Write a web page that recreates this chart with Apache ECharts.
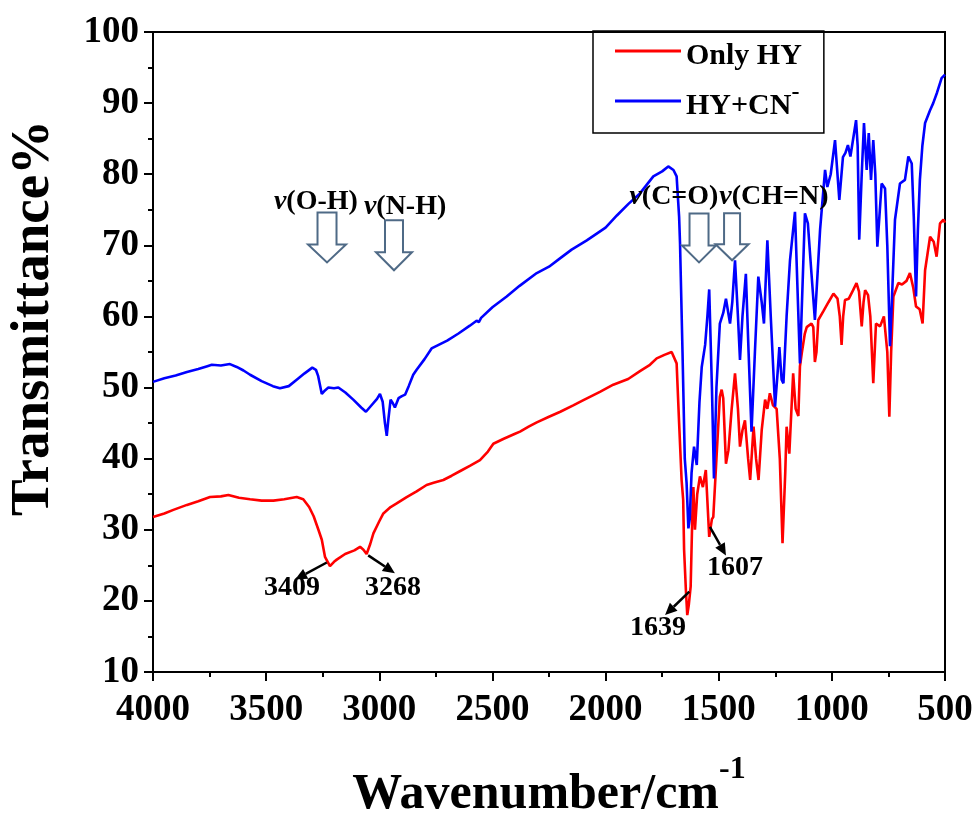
<!DOCTYPE html>
<html><head><meta charset="utf-8">
<script src="https://cdn.jsdelivr.net/npm/echarts@6/dist/echarts.min.js"></script>
<style>html,body{margin:0;padding:0;background:#fff}#c{width:976px;height:816px}</style>
</head><body><div id="c"></div>
<script>
// ---------- data ----------
const xTicks = [500, 1000, 1500, 2000, 2500, 3000, 3500, 4000];
const yTicks = [10, 20, 30, 40, 50, 60, 70, 80, 90, 100];
const seriesNames = ['Only HY', 'HY+CN-'];

// [wavenumber cm-1, transmittance %]
const onlyHY = [
 [4000,31.8],[3950,32.3],[3910,32.8],[3850,33.5],[3800,34.0],[3748,34.6],[3700,34.7],[3667,34.9],
 [3620,34.5],[3571,34.3],[3520,34.1],[3468,34.1],[3420,34.3],[3365,34.6],[3336,34.3],[3310,33.2],
 [3290,31.9],[3269,30.0],[3254,28.6],[3240,26.2],[3218,24.9],[3200,25.5],[3188,25.8],[3151,26.6],
 [3110,27.1],[3085,27.6],[3070,27.2],[3056,26.6],[3040,28.0],[3026,29.5],[3000,31.2],[2982,32.3],
 [2950,33.2],[2923,33.7],[2879,34.6],[2835,35.4],[2791,36.3],[2760,36.6],[2717,37.0],[2680,37.6],
 [2640,38.3],[2600,39.0],[2555,39.8],[2520,41.0],[2496,42.1],[2450,42.8],[2400,43.5],[2378,43.8],
 [2340,44.5],[2304,45.1],[2250,45.9],[2200,46.6],[2143,47.5],[2100,48.2],[2025,49.4],[1966,50.4],
 [1900,51.2],[1848,52.3],[1804,53.2],[1774,54.1],[1740,54.6],[1708,55.0],[1700,55.0],[1686,53.4],
 [1675,45.0],[1664,37.0],[1657,34.2],[1653,27.2],[1645,21.5],[1639,18.0],[1632,19.5],[1624,22.0],
 [1616,32.8],[1612,36.0],[1605,30.0],[1595,35.0],[1583,37.5],[1570,36.0],[1557,38.4],[1542,29.0],
 [1530,31.5],[1524,31.8],[1510,40.0],[1495,48.7],[1487,49.7],[1480,48.5],[1468,39.3],[1457,41.2],
 [1443,46.9],[1428,52.0],[1415,47.0],[1406,41.7],[1395,44.0],[1384,45.4],[1370,40.0],[1361,37.0],
 [1346,44.5],[1335,40.0],[1324,37.0],[1310,44.0],[1295,48.3],[1285,47.0],[1274,49.2],[1260,47.5],
 [1244,47.0],[1230,40.0],[1218,28.1],[1206,38.0],[1200,44.5],[1188,40.7],[1171,52.0],[1160,47.0],
 [1148,46.0],[1141,53.0],[1133,54.8],[1120,57.5],[1111,58.5],[1090,59.0],[1082,58.5],[1075,53.6],
 [1068,55.0],[1060,59.5],[1038,60.7],[1015,62.0],[993,63.2],[975,62.5],[965,60.0],[957,56.0],
 [950,60.0],[942,62.3],[925,62.5],[906,63.7],[891,64.7],[880,63.5],[868,58.6],[860,62.0],
 [853,63.7],[840,63.0],[830,60.0],[817,50.6],[805,59.0],[787,58.6],[770,60.0],[755,55.0],
 [746,45.9],[738,55.0],[728,62.8],[706,64.7],[690,64.5],[670,65.0],[655,66.1],[640,64.0],
 [628,61.4],[612,61.0],[599,59.0],[588,66.5],[566,71.2],[550,70.5],[537,68.4],[522,73.1],
 [507,73.6],[500,73.2]
];

const hyCN = [
 [4000,50.8],[3950,51.3],[3900,51.7],[3850,52.2],[3800,52.6],[3760,53.0],[3740,53.2],[3700,53.1],
 [3660,53.3],[3630,52.9],[3600,52.4],[3571,51.8],[3520,50.9],[3470,50.2],[3439,49.9],[3400,50.2],
 [3365,51.1],[3330,52.0],[3296,52.8],[3280,52.5],[3270,51.6],[3254,49.1],[3240,49.6],[3225,50.0],
 [3200,49.9],[3181,50.0],[3150,49.3],[3115,48.3],[3080,47.2],[3059,46.6],[3040,47.3],[3010,48.4],
 [2997,49.1],[2985,48.0],[2975,45.0],[2967,43.2],[2960,45.5],[2950,48.3],[2940,47.8],[2931,47.2],
 [2915,48.5],[2900,48.8],[2886,49.0],[2870,50.2],[2850,51.8],[2835,52.5],[2800,54.0],[2769,55.5],
 [2700,56.6],[2650,57.6],[2600,58.7],[2570,59.4],[2560,59.2],[2550,59.8],[2500,61.3],[2437,62.8],
 [2380,64.3],[2304,66.1],[2250,67.0],[2200,68.2],[2150,69.4],[2083,70.7],[2000,72.5],[1950,74.2],
 [1900,75.8],[1848,77.3],[1789,79.7],[1750,80.4],[1723,81.1],[1700,80.6],[1686,79.7],[1675,74.0],
 [1671,70.3],[1660,55.0],[1650,40.0],[1642,36.6],[1634,30.2],[1628,31.5],[1620,38.0],[1609,41.7],
 [1597,39.1],[1585,48.0],[1575,52.9],[1560,56.0],[1550,60.0],[1542,63.8],[1530,50.0],[1521,37.2],
 [1510,50.0],[1495,59.0],[1480,60.5],[1468,62.5],[1450,59.0],[1440,62.0],[1428,67.9],[1415,60.0],
 [1406,53.9],[1395,60.0],[1380,66.0],[1368,55.0],[1355,43.8],[1340,55.0],[1325,65.6],[1310,62.0],
 [1300,59.0],[1285,70.7],[1270,60.0],[1251,47.3],[1240,52.0],[1232,55.7],[1222,51.1],[1214,50.6],
 [1200,60.0],[1185,67.9],[1163,74.7],[1141,53.4],[1119,74.5],[1106,73.1],[1090,66.0],[1075,59.5],
 [1052,72.2],[1030,80.6],[1020,78.2],[1005,80.0],[986,84.8],[967,76.4],[951,82.4],[940,83.0],
 [929,84.1],[918,82.5],[893,87.6],[886,84.0],[879,70.8],[868,80.0],[858,87.2],[846,80.6],
 [837,85.8],[827,79.2],[817,84.8],[808,80.0],[799,69.8],[790,74.0],[780,78.7],[765,78.0],
 [755,70.0],[743,55.8],[735,62.0],[721,73.6],[699,78.7],[677,79.2],[662,82.5],[647,81.5],
 [638,74.0],[628,62.8],[620,72.0],[611,79.2],[600,84.0],[588,87.2],[566,89.0],[552,90.0],
 [535,91.5],[515,93.5],[500,94.0]
];

// band annotations (text anchor in data units)
const bandNotes = [
 {label:'(O-H)',  wn:3280, t:76.1},
 {label:'(N-H)',  wn:2886, t:75.4},
 {label:'(C=O)',  wn:1698, t:76.8},
 {label:'(CH=N)', wn:1256, t:76.8}
];
// hollow arrows: tip in data units
const bandArrows = [
 {wn:3231, t:67.6, w:19, hw:38, hh:18, h:50},
 {wn:2935, t:66.5, w:18, hw:36, hh:18, h:50},
 {wn:1587, t:67.6, w:19, hw:34, hh:17, h:49},
 {wn:1441, t:67.9, w:16, hw:33, hh:16, h:47}
];
// peak labels and pointer arrows (data units)
const peakNotes = [
 {label:'3409', wn:3386, t:21.8, from:[3232,25.4], to:[3372,23.0]},
 {label:'3268', wn:2939, t:21.8, from:[3049,26.4], to:[2931,23.9]},
 {label:'1607', wn:1428, t:24.6, from:[1539,30.4], to:[1468,26.4]},
 {label:'1639', wn:1768, t:16.2, from:[1630,21.3], to:[1737,18.0]}
];

// ---------- chart ----------
const FONT = 'Liberation Serif';
const chart = echarts.init(document.getElementById('c'));
const tickStyle = {color:'#000', width:2};
const option = {
  animation:false,
  backgroundColor:'#fff',
  grid:{left:153, right:31, top:32, bottom:144, outerBoundsMode:'none', containLabel:false,
        show:true, borderColor:'#000', borderWidth:2, backgroundColor:'transparent'},
  legend:{
    left:593, top:31, orient:'vertical',
    borderColor:'#000', borderWidth:1.5, padding:[10,22,12,22],
    itemGap:10, itemWidth:66, itemHeight:3, itemTextGap:10,
    data:[{name:seriesNames[0], icon:'rect'},{name:seriesNames[1], icon:'rect'}],
    formatter:function(n){ return n === 'HY+CN-' ? '{n|HY+CN}{s|-}' : '{n|' + n + '}'; },
    textStyle:{color:'#000', rich:{
      n:{fontFamily:FONT, fontWeight:'bold', fontSize:30, color:'#000', lineHeight:40, verticalAlign:'bottom'},
      s:{fontFamily:FONT, fontWeight:'bold', fontSize:24, color:'#000', verticalAlign:'top'}
    }}
  },
  xAxis:{
    type:'value', inverse:true,
    min:xTicks[0], max:xTicks[xTicks.length-1], interval:xTicks[1]-xTicks[0],
    axisLine:{show:true, onZero:false, lineStyle:tickStyle},
    axisTick:{show:true, length:9, lineStyle:tickStyle},
    minorTick:{show:true, splitNumber:2, length:5, lineStyle:tickStyle},
    splitLine:{show:false},
    axisLabel:{margin:20, color:'#000', fontFamily:FONT, fontWeight:'bold', fontSize:37,
               formatter:function(v){ return String(v); }},
    name:'{n|Wavenumber/cm}{s|-1}', nameLocation:'middle', nameGap:82,
    nameTextStyle:{rich:{
      n:{fontFamily:FONT, fontWeight:'bold', fontSize:50, color:'#000', lineHeight:66, verticalAlign:'bottom'},
      s:{fontFamily:FONT, fontWeight:'bold', fontSize:32, color:'#000', verticalAlign:'top'}
    }}
  },
  yAxis:{
    type:'value',
    min:yTicks[0], max:yTicks[yTicks.length-1], interval:yTicks[1]-yTicks[0],
    axisLine:{show:true, onZero:false, lineStyle:tickStyle},
    axisTick:{show:true, length:9, lineStyle:tickStyle},
    minorTick:{show:true, splitNumber:2, length:5, lineStyle:tickStyle},
    splitLine:{show:false},
    axisLabel:{margin:14, color:'#000', fontFamily:FONT, fontWeight:'bold', fontSize:37,
               formatter:function(v){ return String(v); }},
    name:'Transmittance%', nameLocation:'middle', nameGap:92, nameRotate:90,
    nameTextStyle:{fontFamily:FONT, fontWeight:'bold', fontSize:55, color:'#000', padding:[0,0,0,68]}
  },
  series:[
    {type:'line', name:seriesNames[0], data:onlyHY, showSymbol:false, symbol:'none', z:2,
     lineStyle:{color:'#ff0000', width:2.6}, itemStyle:{color:'#ff0000'}},
    {type:'line', name:seriesNames[1], data:hyCN, showSymbol:false, symbol:'none', z:3,
     lineStyle:{color:'#0000ff', width:2.6}, itemStyle:{color:'#0000ff'}}
  ]
};
chart.setOption(option);

// ---------- annotations placed through the axes ----------
function px(wn, t){ return chart.convertToPixel({gridIndex:0}, [wn, t]); }
const g = [];
const noteRich = {
  i:{fontFamily:FONT, fontWeight:'bold', fontStyle:'italic', fontSize:28, fill:'#000'},
  b:{fontFamily:FONT, fontWeight:'bold', fontSize:28, fill:'#000'}
};
bandNotes.forEach(function(a){
  const p = px(a.wn, a.t);
  g.push({type:'text', x:p[0], y:p[1], z:100,
    style:{text:'{i|ν}{b|' + a.label + '}', rich:noteRich, align:'center', verticalAlign:'middle', fill:'#000'}});
});
bandArrows.forEach(function(a){
  const p = px(a.wn, a.t), x = p[0], y = p[1];
  g.push({type:'polygon', z:90, shape:{points:[
    [x-a.w/2, y-a.h],[x+a.w/2, y-a.h],[x+a.w/2, y-a.hh],[x+a.hw/2, y-a.hh],[x, y],
    [x-a.hw/2, y-a.hh],[x-a.w/2, y-a.hh]]},
    style:{fill:'none', stroke:'#4f6a86', lineWidth:2}});
});
peakNotes.forEach(function(a){
  const p = px(a.wn, a.t);
  g.push({type:'text', x:p[0], y:p[1], z:100,
    style:{text:a.label, fontFamily:FONT, fontWeight:'bold', fontSize:28, fill:'#000', align:'center', verticalAlign:'middle'}});
  const s = px(a.from[0], a.from[1]), e = px(a.to[0], a.to[1]);
  const dx = e[0]-s[0], dy = e[1]-s[1], L = Math.sqrt(dx*dx+dy*dy);
  const ux = dx/L, uy = dy/L, hl = 12, hw = 5.5;
  const bx = e[0]-ux*hl, by = e[1]-uy*hl;
  g.push({type:'line', z:95, shape:{x1:s[0], y1:s[1], x2:bx, y2:by}, style:{stroke:'#000', lineWidth:2.5}});
  g.push({type:'polygon', z:95, shape:{points:[[e[0],e[1]],[bx-uy*hw, by+ux*hw],[bx+uy*hw, by-ux*hw]]}, style:{fill:'#000'}});
});
chart.setOption({graphic:g});
</script>
</body></html>
